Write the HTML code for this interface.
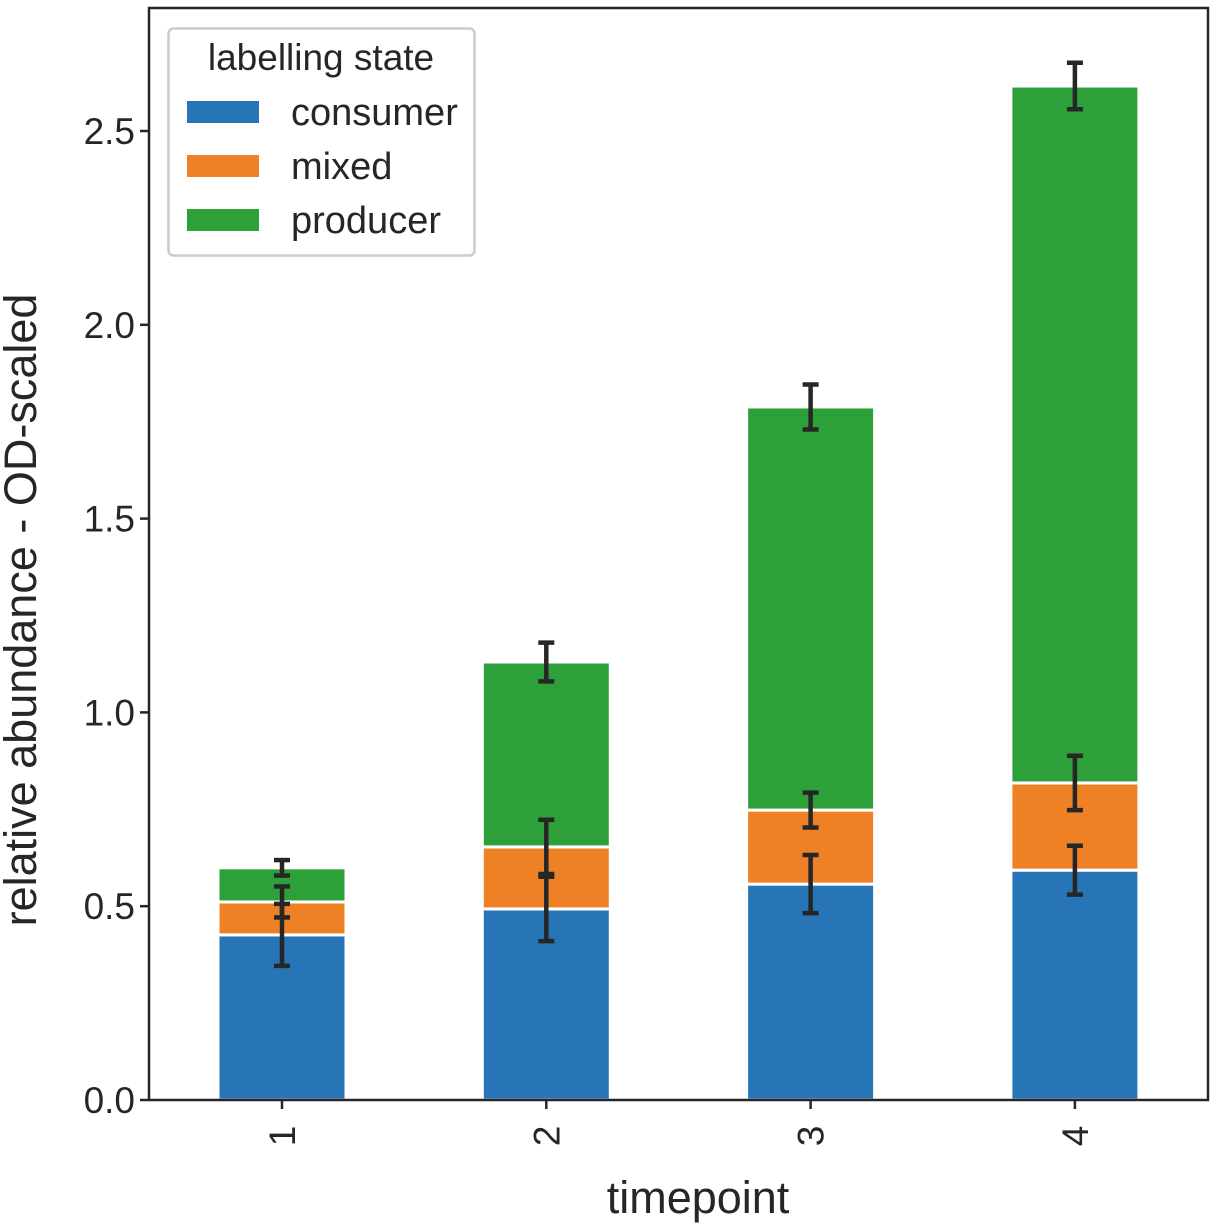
<!DOCTYPE html>
<html><head><meta charset="utf-8"><style>
html,body{margin:0;padding:0;background:#fff;}
svg{display:block;font-family:"Liberation Sans",Arial,sans-serif;}
</style></head><body>
<svg id="chart" width="1217" height="1225" viewBox="0 0 1217 1225"></svg>
<script>
const categories = ["1","2","3","4"];
const consumer = [0.426, 0.493, 0.557, 0.593];
const mixed = [0.085, 0.160, 0.191, 0.225];
const producer = [0.088, 0.477, 1.040, 1.798];
const consumerErr = [0.080, 0.083, 0.075, 0.063];
const mixedErr = [0.040, 0.070, 0.045, 0.070];
const producerErr = [0.020, 0.050, 0.058, 0.060];
const yTicks = [0.0, 0.5, 1.0, 1.5, 2.0, 2.5];
const yTickLabels = ["0.0","0.5","1.0","1.5","2.0","2.5"];
const seriesNames = ["consumer","mixed","producer"];
const colors = ["#2775b6","#ee8126","#2ea03a"];

const NS = "http://www.w3.org/2000/svg";
const svg = document.getElementById('chart');
const L=149, R=1208, T=8, B=1100;
const yScale = v => B - v*387.6;
const xScale = i => 282 + i*264.3;
const bw = 128;
function mk(tag, attrs, parent){const e=document.createElementNS(NS,tag);for(const k in attrs)e.setAttribute(k,attrs[k]);(parent||svg).appendChild(e);return e;}

const series=[consumer,mixed,producer], errs=[consumerErr,mixedErr,producerErr];
categories.forEach((c,i)=>{
  let base=0;
  series.forEach((s,j)=>{
    const top=base+s[i];
    const r=mk('rect',{x:xScale(i)-bw/2,y:yScale(top),width:bw,height:yScale(base)-yScale(top),fill:colors[j],stroke:'#fff','stroke-width':3});
    
    
    base=top;
  });
});
categories.forEach((c,i)=>{
  let base=0;
  series.forEach((s,j)=>{
    base+=s[i];
    const e=errs[j][i], x=xScale(i);
    const g=mk('g',{stroke:'#262626','stroke-width':4.5});
    
    
    mk('line',{x1:x,x2:x,y1:yScale(base-e),y2:yScale(base+e)},g);
    mk('line',{x1:x-8,x2:x+8,y1:yScale(base-e),y2:yScale(base-e)},g);
    mk('line',{x1:x-8,x2:x+8,y1:yScale(base+e),y2:yScale(base+e)},g);
  });
});
const fr=mk('rect',{x:L,y:T,width:R-L,height:B-T,fill:'none',stroke:'#262626','stroke-width':2.5});


yTicks.forEach((v,k)=>{
  const y=yScale(v);
  mk('line',{x1:L-9,x2:L,y1:y,y2:y,stroke:'#262626','stroke-width':2.5});
  const t=mk('text',{x:L-14,y:y+13,'text-anchor':'end','font-size':37,fill:'#262626'});
  t.textContent=yTickLabels[k];
  
  
});
categories.forEach((c,i)=>{
  const x=xScale(i);
  mk('line',{x1:x,x2:x,y1:B,y2:B+9,stroke:'#262626','stroke-width':2.5});
  const t=mk('text',{x:0,y:0,'text-anchor':'middle','font-size':37,fill:'#262626',transform:`translate(${x+13},${B+36}) rotate(-90)`});
  t.textContent=c;
  
  
});
</script>
<svg style="position:absolute;left:0;top:0" width="1217" height="1225">
<text x="698" y="1213" text-anchor="middle" font-size="45" fill="#262626" font-family="Liberation Sans, sans-serif">timepoint</text>
<text transform="translate(36,610) rotate(-90)" text-anchor="middle" font-size="45" fill="#262626" font-family="Liberation Sans, sans-serif">relative abundance - OD-scaled</text>
<g font-family="Liberation Sans, sans-serif" fill="#262626">
<rect x="168.5" y="28.5" width="306" height="227" rx="5" fill="#fff" fill-opacity="0.85" stroke="#ccc" stroke-width="2.5"/>
<text x="321" y="70" text-anchor="middle" font-size="37">labelling state</text>
<rect x="187" y="101" width="72" height="22" fill="#2775b6"/>
<text x="291" y="125" font-size="38">consumer</text>
<rect x="187" y="155" width="72" height="22" fill="#ee8126"/>
<text x="291" y="179" font-size="38">mixed</text>
<rect x="187" y="209" width="72" height="22" fill="#2ea03a"/>
<text x="291" y="233" font-size="38">producer</text>
</g>
</svg>
</body></html>
